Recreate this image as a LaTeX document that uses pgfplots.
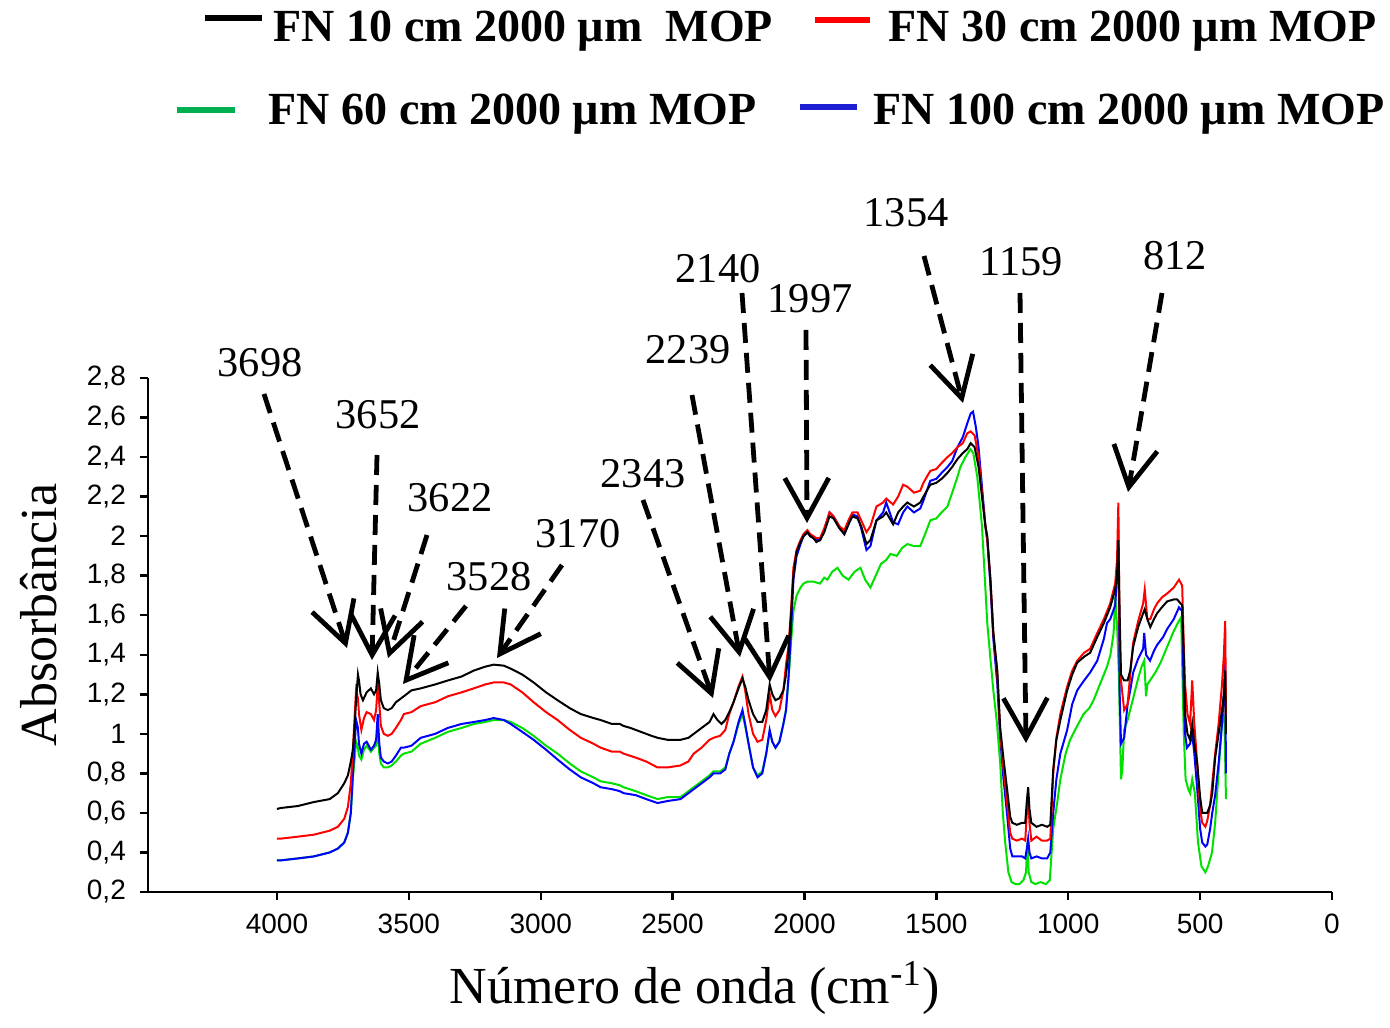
\documentclass[border=0pt]{standalone}
\usepackage{fontspec}
\setmainfont{Liberation Serif}
\newfontfamily\arial{Liberation Sans}
\usepackage{pgfplots}
\pgfplotsset{compat=1.18}
\usetikzlibrary{arrows.meta}
\definecolor{cgreen}{RGB}{0,225,0}
\definecolor{lgreen}{RGB}{0,176,80}
\definecolor{lblue}{RGB}{30,30,210}
\begin{document}
\begin{tikzpicture}
\begin{axis}[
  scale only axis, width=296pt, height=128.5pt,
  x dir=reverse, xmin=0, xmax=4489, ymin=0.2, ymax=2.8,
  axis lines*=left,
  axis line style={line width=0.6pt},
  xtick={0,500,...,4000},
  ytick={0.2,0.4,0.6,0.8,1,1.2,1.4,1.6,1.8,2,2.2,2.4,2.6,2.8},
  tick align=outside, major tick length=2pt,
  tick style={line width=0.6pt, black},
  tick label style={font=\fontsize{7}{8.5}\selectfont\arial},
  /pgf/number format/use comma,
  /pgf/number format/1000 sep={},
  /pgf/number format/assume math mode=true,
  clip=false,
  every axis plot/.append style={line width=0.5pt, sharp plot},
]
% FN 60
\addplot[cgreen] coordinates {
(4000,0.36) (3985,0.36) (3920,0.37) (3860,0.38) (3800,0.40) (3769,0.42) (3745,0.45) (3731,0.50) (3720,0.60) (3712,0.78) (3705,0.88) (3700,0.96) (3693,0.93) (3689,0.89) (3680,0.87) (3670,0.92) (3660,0.94) (3644,0.91) (3632,0.93) (3624,0.94) (3618,1.03) (3612,0.90) (3606,0.85) (3595,0.83) (3580,0.83) (3565,0.84) (3549,0.86) (3530,0.89) (3519,0.90) (3490,0.91) (3455,0.95) (3400,0.98) (3352,1.01) (3300,1.03) (3254,1.05) (3210,1.06) (3178,1.07) (3140,1.07) (3114,1.06) (3070,1.03) (3027,0.99) (2980,0.94) (2936,0.90) (2890,0.85) (2848,0.81) (2800,0.78) (2773,0.76) (2730,0.75) (2700,0.74) (2686,0.73) (2640,0.71) (2600,0.69) (2557,0.67) (2520,0.68) (2470,0.68) (2440,0.71) (2420,0.73) (2390,0.76) (2360,0.79) (2345,0.81) (2320,0.81) (2300,0.83) (2285,0.90) (2269,0.96) (2250,1.05) (2235,1.10) (2225,1.04) (2212,0.95) (2195,0.83) (2178,0.79) (2160,0.81) (2145,0.90) (2132,1.01) (2122,0.96) (2110,0.93) (2095,0.96) (2080,1.05) (2070,1.12) (2060,1.28) (2050,1.48) (2042,1.62) (2030,1.70) (2015,1.74) (2004,1.76) (1989,1.77) (1966,1.77) (1941,1.76) (1925,1.79) (1913,1.78) (1895,1.82) (1875,1.84) (1855,1.80) (1833,1.78) (1810,1.82) (1788,1.84) (1770,1.78) (1750,1.74) (1730,1.80) (1710,1.86) (1690,1.88) (1674,1.91) (1650,1.90) (1630,1.94) (1610,1.96) (1585,1.95) (1561,1.95) (1540,2.02) (1523,2.08) (1500,2.09) (1480,2.12) (1458,2.15) (1440,2.22) (1420,2.30) (1409,2.35) (1390,2.40) (1371,2.44) (1360,2.42) (1345,2.30) (1327,2.05) (1307,1.56) (1295,1.38) (1284,1.22) (1270,1.05) (1258,0.85) (1248,0.60) (1239,0.45) (1227,0.30) (1215,0.25) (1200,0.24) (1185,0.24) (1170,0.26) (1160,0.30) (1155,0.45) (1150,0.30) (1140,0.25) (1125,0.24) (1105,0.25) (1085,0.24) (1070,0.26) (1057,0.52) (1042,0.65) (1030,0.77) (1010,0.90) (993,0.97) (970,1.03) (942,1.10) (920,1.13) (904,1.17) (880,1.25) (853,1.34) (840,1.40) (828,1.51) (822,1.69) (815,1.55) (808,1.30) (800,0.77) (795,0.82) (788,1.02) (775,1.07) (750,1.20) (735,1.28) (722,1.34) (712,1.37) (705,1.19) (700,1.25) (685,1.28) (670,1.31) (650,1.36) (625,1.44) (600,1.52) (585,1.56) (572,1.59) (562,1.00) (555,0.77) (545,0.72) (538,0.70) (530,0.77) (520,0.70) (508,0.45) (495,0.33) (480,0.30) (470,0.33) (455,0.40) (443,0.55) (437,0.67) (425,0.90) (415,1.10) (408,1.08) (402,0.67)
};
% FN 100
\addplot[blue] coordinates {
(4000,0.36) (3985,0.36) (3920,0.37) (3860,0.38) (3800,0.40) (3769,0.42) (3745,0.45) (3731,0.50) (3720,0.60) (3712,0.80) (3705,0.95) (3700,1.07) (3693,1.03) (3689,0.95) (3680,0.90) (3670,0.95) (3660,0.96) (3644,0.92) (3632,0.94) (3624,0.97) (3618,1.10) (3612,0.95) (3606,0.88) (3595,0.86) (3580,0.85) (3565,0.86) (3549,0.89) (3530,0.93) (3519,0.93) (3490,0.94) (3455,0.98) (3400,1.00) (3352,1.03) (3300,1.05) (3254,1.06) (3210,1.07) (3178,1.08) (3140,1.07) (3114,1.05) (3070,1.01) (3027,0.97) (2980,0.92) (2936,0.87) (2890,0.82) (2848,0.78) (2800,0.75) (2773,0.73) (2730,0.72) (2700,0.71) (2686,0.70) (2640,0.69) (2600,0.67) (2557,0.65) (2520,0.66) (2470,0.67) (2440,0.70) (2420,0.72) (2390,0.75) (2360,0.78) (2345,0.80) (2320,0.80) (2300,0.82) (2285,0.90) (2269,0.96) (2250,1.06) (2235,1.12) (2225,1.05) (2212,0.95) (2195,0.83) (2178,0.78) (2160,0.80) (2145,0.90) (2132,1.02) (2122,0.96) (2110,0.93) (2095,0.96) (2080,1.05) (2070,1.12) (2060,1.30) (2050,1.55) (2042,1.78) (2030,1.90) (2015,1.96) (2004,2.00) (1989,2.02) (1978,2.00) (1966,1.99) (1955,1.98) (1941,1.98) (1925,2.03) (1905,2.12) (1890,2.10) (1868,2.05) (1849,2.01) (1830,2.07) (1818,2.11) (1799,2.10) (1785,2.04) (1765,1.93) (1750,1.95) (1727,2.08) (1702,2.12) (1690,2.17) (1664,2.07) (1645,2.06) (1626,2.12) (1610,2.15) (1585,2.12) (1561,2.14) (1549,2.18) (1523,2.28) (1500,2.29) (1480,2.32) (1458,2.35) (1440,2.38) (1420,2.45) (1400,2.50) (1383,2.57) (1370,2.62) (1361,2.63) (1350,2.55) (1340,2.45) (1327,2.25) (1314,2.05) (1307,1.98) (1295,1.75) (1284,1.48) (1269,1.25) (1258,0.98) (1246,0.78) (1231,0.58) (1220,0.42) (1212,0.38) (1195,0.38) (1175,0.38) (1163,0.37) (1157,0.42) (1152,0.47) (1147,0.40) (1140,0.37) (1120,0.38) (1100,0.37) (1080,0.37) (1068,0.40) (1057,0.60) (1045,0.77) (1030,0.90) (1004,1.02) (985,1.15) (966,1.22) (940,1.27) (917,1.31) (890,1.37) (865,1.48) (853,1.56) (841,1.58) (822,1.65) (815,1.80) (810,2.03) (805,1.20) (800,0.95) (788,0.98) (775,1.15) (765,1.22) (754,1.31) (735,1.38) (716,1.43) (712,1.51) (705,1.40) (690,1.37) (675,1.42) (663,1.45) (640,1.49) (625,1.53) (600,1.58) (580,1.64) (568,1.62) (562,1.20) (557,1.00) (550,0.93) (538,0.95) (530,1.00) (522,0.90) (511,0.72) (500,0.52) (492,0.45) (480,0.43) (473,0.44) (462,0.52) (454,0.60) (443,0.69) (430,0.85) (417,1.05) (410,1.20) (405,1.36) (402,0.80)
};
% FN 30
\addplot[red] coordinates {
(4000,0.47) (3985,0.47) (3920,0.48) (3860,0.49) (3800,0.51) (3769,0.53) (3745,0.57) (3731,0.63) (3720,0.75) (3712,0.92) (3705,1.10) (3700,1.22) (3693,1.18) (3689,1.10) (3680,1.02) (3670,1.08) (3660,1.11) (3644,1.10) (3632,1.07) (3624,1.12) (3618,1.25) (3612,1.15) (3606,1.04) (3595,1.00) (3580,0.99) (3565,1.00) (3549,1.03) (3530,1.07) (3519,1.10) (3490,1.11) (3455,1.14) (3400,1.16) (3352,1.19) (3300,1.21) (3254,1.23) (3210,1.25) (3178,1.26) (3140,1.26) (3114,1.25) (3070,1.21) (3027,1.16) (2980,1.11) (2936,1.07) (2890,1.02) (2848,0.98) (2800,0.95) (2773,0.93) (2730,0.91) (2700,0.91) (2686,0.90) (2640,0.88) (2600,0.86) (2557,0.83) (2520,0.83) (2470,0.84) (2440,0.86) (2420,0.90) (2390,0.93) (2360,0.97) (2345,0.98) (2320,0.99) (2300,1.02) (2285,1.10) (2269,1.16) (2250,1.24) (2235,1.29) (2225,1.22) (2212,1.10) (2195,1.00) (2178,0.96) (2160,0.97) (2145,1.07) (2132,1.20) (2122,1.12) (2110,1.09) (2095,1.12) (2080,1.22) (2070,1.35) (2060,1.45) (2050,1.65) (2042,1.84) (2030,1.93) (2015,1.98) (2004,2.01) (1989,2.03) (1978,2.01) (1966,2.00) (1955,1.99) (1941,1.99) (1925,2.04) (1905,2.12) (1890,2.10) (1868,2.05) (1849,2.03) (1830,2.09) (1818,2.12) (1799,2.12) (1785,2.08) (1765,2.02) (1750,2.05) (1727,2.15) (1702,2.17) (1690,2.19) (1664,2.16) (1645,2.20) (1626,2.26) (1610,2.25) (1585,2.22) (1561,2.23) (1549,2.27) (1523,2.33) (1500,2.34) (1480,2.37) (1458,2.40) (1440,2.42) (1420,2.45) (1400,2.47) (1383,2.52) (1370,2.53) (1355,2.51) (1340,2.40) (1327,2.22) (1314,2.05) (1307,1.98) (1295,1.78) (1284,1.51) (1269,1.30) (1258,1.00) (1246,0.83) (1231,0.64) (1220,0.50) (1212,0.47) (1195,0.46) (1175,0.47) (1163,0.46) (1157,0.60) (1152,0.68) (1147,0.55) (1140,0.46) (1120,0.48) (1100,0.46) (1080,0.46) (1068,0.47) (1057,0.80) (1045,0.98) (1030,1.10) (1004,1.24) (985,1.32) (966,1.37) (940,1.41) (917,1.43) (890,1.51) (865,1.58) (841,1.66) (822,1.76) (815,1.88) (810,2.17) (805,1.45) (800,1.27) (788,1.12) (775,1.15) (765,1.30) (754,1.46) (735,1.57) (716,1.66) (710,1.73) (700,1.58) (689,1.58) (675,1.63) (663,1.66) (645,1.69) (625,1.71) (600,1.74) (580,1.78) (568,1.75) (562,1.45) (557,1.25) (548,1.10) (538,1.05) (530,1.27) (522,1.05) (511,0.85) (500,0.62) (492,0.55) (480,0.53) (473,0.56) (462,0.64) (454,0.75) (443,0.90) (430,1.05) (417,1.25) (410,1.40) (405,1.57) (402,1.10)
};
% FN 10
\addplot[black] coordinates {
(4000,0.62) (3985,0.625) (3920,0.635) (3860,0.655) (3800,0.67) (3769,0.70) (3745,0.75) (3731,0.79) (3720,0.86) (3712,0.92) (3705,1.05) (3700,1.17) (3693,1.30) (3689,1.27) (3683,1.20) (3674,1.17) (3660,1.21) (3644,1.23) (3632,1.20) (3624,1.22) (3618,1.31) (3612,1.25) (3606,1.17) (3595,1.13) (3580,1.12) (3565,1.13) (3549,1.16) (3519,1.19) (3490,1.22) (3455,1.23) (3400,1.25) (3352,1.27) (3300,1.29) (3254,1.32) (3210,1.34) (3178,1.35) (3140,1.345) (3114,1.33) (3070,1.30) (3027,1.26) (2980,1.21) (2936,1.17) (2890,1.13) (2848,1.10) (2800,1.08) (2773,1.07) (2730,1.05) (2700,1.05) (2686,1.04) (2660,1.03) (2620,1.01) (2580,0.99) (2557,0.98) (2520,0.97) (2470,0.97) (2440,0.98) (2420,1.00) (2390,1.03) (2360,1.06) (2345,1.10) (2330,1.07) (2315,1.05) (2300,1.07) (2285,1.11) (2269,1.16) (2250,1.23) (2235,1.28) (2225,1.24) (2212,1.17) (2195,1.10) (2178,1.06) (2160,1.06) (2145,1.12) (2132,1.25) (2122,1.20) (2110,1.17) (2095,1.18) (2080,1.22) (2070,1.30) (2060,1.42) (2050,1.62) (2042,1.80) (2030,1.92) (2015,1.97) (2004,2.00) (1989,2.02) (1978,2.00) (1966,1.99) (1955,1.97) (1941,1.98) (1925,2.02) (1905,2.10) (1890,2.09) (1868,2.04) (1849,2.01) (1830,2.07) (1818,2.10) (1799,2.09) (1785,2.05) (1765,1.96) (1750,1.98) (1727,2.08) (1702,2.10) (1690,2.12) (1664,2.06) (1645,2.12) (1626,2.15) (1610,2.17) (1585,2.15) (1561,2.17) (1549,2.20) (1523,2.26) (1500,2.27) (1480,2.29) (1458,2.32) (1440,2.35) (1420,2.39) (1400,2.42) (1383,2.44) (1370,2.47) (1355,2.45) (1340,2.35) (1327,2.20) (1314,2.05) (1307,2.00) (1295,1.78) (1284,1.51) (1269,1.32) (1258,1.03) (1246,0.88) (1231,0.71) (1220,0.58) (1212,0.55) (1195,0.54) (1175,0.55) (1163,0.55) (1157,0.66) (1152,0.73) (1147,0.62) (1140,0.55) (1120,0.53) (1100,0.54) (1080,0.53) (1068,0.54) (1057,0.82) (1045,0.97) (1030,1.07) (1004,1.22) (985,1.30) (966,1.36) (940,1.39) (917,1.41) (890,1.49) (865,1.56) (841,1.64) (822,1.73) (815,1.80) (810,1.98) (805,1.60) (800,1.30) (788,1.27) (775,1.27) (765,1.32) (754,1.44) (735,1.54) (716,1.61) (710,1.63) (700,1.58) (689,1.54) (675,1.58) (663,1.61) (645,1.64) (625,1.67) (600,1.68) (587,1.68) (568,1.65) (562,1.40) (557,1.10) (548,1.00) (538,0.97) (530,1.05) (522,0.95) (511,0.85) (500,0.68) (492,0.60) (473,0.60) (462,0.64) (454,0.70) (443,0.88) (430,1.00) (417,1.12) (410,1.20) (405,1.32) (402,1.00)
};
\end{axis}
% annotations, legend and labels in pixel units of the reference
\begin{scope}[shift={(-37pt,223pt)}, x=0.25pt, y=-0.25pt]
\path (0,0) rectangle (1390,1016);
\tikzset{pk/.style={font=\fontsize{10.6}{12}\selectfont, anchor=base},
  ar/.style={line width=1.2pt, dash pattern=on 5pt off 2.5pt,
    -{Straight Barb[length=10pt,width=11pt]}}}
\node[pk] at (260,377) {3698};
\node[pk] at (378,429) {3652};
\node[pk] at (450,512) {3622};
\node[pk] at (489,591) {3528};
\node[pk] at (578,548) {3170};
\node[pk] at (643,488) {2343};
\node[pk] at (688,364) {2239};
\node[pk] at (718,283) {2140};
\node[pk] at (810,313) {1997};
\node[pk] at (906,227) {1354};
\node[pk] at (1021,276) {1159};
\node[pk] at (1175,270) {812};
\draw[ar] (264,394) -- (347,648);
\draw[ar] (377,455) -- (372,660);
\draw[ar] (427,535) -- (388,658);
\draw[ar] (466,606) -- (403,684);
\draw[ar] (562,565) -- (497,658);
\draw[ar] (643,500) -- (713,698);
\draw[ar] (692,395) -- (740,657);
\draw[ar] (742,293) -- (770,682);
\draw[ar] (806,330) -- (807,523);
\draw[ar] (924,256) -- (963,403);
\draw[ar] (1020,293) -- (1026,743);
\draw[ar] (1162,293) -- (1128,492);
% legend
\tikzset{lg/.style={font=\fontsize{11.5}{13}\selectfont\bfseries, anchor=base west, inner sep=0pt}}
\draw[black, line width=1.3pt] (205,18) -- (262,18);
\node[lg] at (273,42) {FN 10 cm 2000 µm\ \ MOP};
\draw[red, line width=1.3pt] (815,20) -- (870,20);
\node[lg] at (888,42) {FN 30 cm 2000 µm MOP};
\draw[lgreen, line width=1.3pt] (177,110) -- (235,110);
\node[lg] at (268,125) {FN 60 cm 2000 µm MOP};
\draw[lblue, line width=1.3pt] (800,107) -- (857,107);
\node[lg] at (873,125) {FN 100 cm 2000 µm MOP};
% axis titles
\node[font=\fontsize{13}{15}\selectfont, anchor=base] at (695,1003) {Número de onda (cm\textsuperscript{-1})};
\node[font=\fontsize{13}{15}\selectfont, anchor=base, rotate=90] at (56,615) {Absorbância};
\end{scope}
\end{tikzpicture}
\end{document}
